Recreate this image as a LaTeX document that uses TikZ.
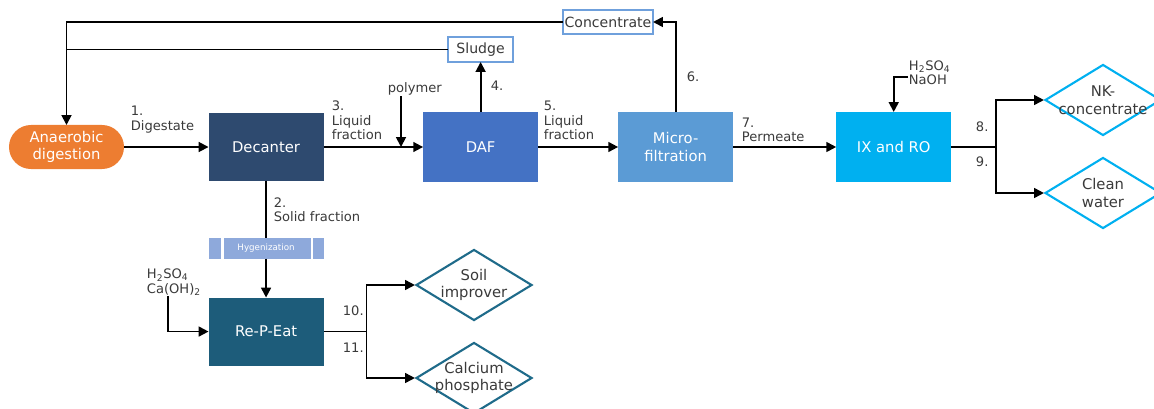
\documentclass[tikz,border=0pt]{standalone}
\usepackage{fontspec}
\setmainfont{DejaVu Sans}
\usetikzlibrary{arrows.meta,positioning,shapes.geometric}
\definecolor{adorange}{HTML}{ED7D31}
\definecolor{decnavy}{HTML}{2E4A6F}
\definecolor{dafblue}{HTML}{4472C4}
\definecolor{mfblue}{HTML}{5B9BD5}
\definecolor{ixcyan}{HTML}{00B0F0}
\definecolor{repteal}{HTML}{1D5C7A}
\definecolor{hygblue}{HTML}{8EA9DB}
\definecolor{outblue}{HTML}{6FA0DC}
\definecolor{prodteal}{HTML}{1F6B8A}
\definecolor{lblgrey}{HTML}{3A3A3A}

\begin{document}
\begin{tikzpicture}[x=0.025cm, y=-0.025cm, line width=1.3pt, unit/.style={fill=#1, text=white, minimum width=2.875cm, minimum height=1.75cm, align=center, inner sep=0pt, outer sep=0pt, font=\fontsize{10.5}{12.5}\selectfont}, outbox/.style={draw=outblue, fill=white, line width=1.3pt, minimum height=0.6cm, inner sep=0pt, outer sep=0pt, text=lblgrey, font=\fontsize{10}{12}\selectfont}, prod/.style={diamond, draw=#1, line width=1.5pt, fill=white, minimum width=2.9cm, minimum height=1.775cm, inner sep=0pt}, prodtext/.style={align=center, text=lblgrey, font=\fontsize{10.5}{12.5}\selectfont}, lbl/.style={inner sep=0pt, align=left, text=lblgrey, font=\fontsize{9.3}{10.3}\selectfont}, arr/.style={-{Triangle[length=7pt,width=7pt]}}]
\useasboundingbox (0,0) rectangle (1154,408);
\node[unit=adorange, rounded corners=0.55cm, minimum height=1.1cm] (ad) at (66.5,147) {Anaerobic\\digestion};
\node[unit=decnavy, minimum height=1.675cm, right=2.1125cm of ad] (dec) {Decanter};
\node[unit=dafblue, right=2.4875cm of dec] (daf) {DAF};
\node[unit=mfblue, right=2cm of daf] (mf) {Micro-\\filtration};
\node[unit=ixcyan, right=2.575cm of mf] (ix) {IX and RO};
\node[unit=hygblue, minimum height=0.525cm, font=\fontsize{6.2}{7}\selectfont, below=1.425cm of dec] (hyg) {Hygenization};
\node[unit=repteal, minimum height=1.7cm, below=0.975cm of hyg] (rep) {Re-P-Eat};
\node[outbox, minimum width=1.625cm, minimum height=0.625cm, above=1.25cm of daf] (sludge) {Sludge};
\node[outbox, minimum width=2.25cm] (conc) at (608,22) {Concentrate};
\node[prod=ixcyan, label={[prodtext]center:{NK-\\concentrate}}] (nk) at (1103,100) {};
\node[prod=ixcyan, label={[prodtext]center:{Clean\\water}}] (cw) at (1103,193) {};
\node[prod=prodteal, label={[prodtext]center:{Soil\\improver}}] (soil) at (474,285) {};
\node[prod=prodteal, label={[prodtext]center:{Calcium\\phosphate}}] (caph) at (474,378) {};
\coordinate[right=1.125cm of ix] (ixsplit);
\coordinate[right=1.075cm of rep] (repsplit);
\coordinate (polyin) at (401,147);
\node[lbl, anchor=south west] (polymer) at (387,96) {polymer};
\node[lbl, anchor=south west] (chemna) at (908,86) {H\textsubscript{2}SO\textsubscript{4}\\NaOH};
\node[lbl, anchor=north west] (chemca) at (146,268) {H\textsubscript{2}SO\textsubscript{4}\\Ca(OH)\textsubscript{2}};
\node[lbl, anchor=south west] (l1) at (130,134) {1.\\Digestate};
\node[lbl, anchor=south west] (l2) at (273,223) {2.\\Solid fraction};
\node[lbl, anchor=south west] (l3) at (331,141) {3.\\Liquid\\fraction};
\node[lbl, anchor=south west] (l4) at (490,91) {4.};
\node[lbl, anchor=south west] (l5) at (543,141) {5.\\Liquid\\fraction};
\node[lbl, anchor=south west] (l6) at (686,83) {6.};
\node[lbl, anchor=south west] (l7) at (741,143) {7.\\Permeate};
\node[lbl, anchor=south west] (l8) at (975,133) {8.};
\node[lbl, anchor=south west] (l9) at (975,168) {9.};
\node[lbl, anchor=south west] (l10) at (342,317) {10.};
\node[lbl, anchor=south west] (l11) at (342,353) {11.};
\foreach \sx in {0.35,2.575} \draw[white, line width=1.5pt] ([xshift=\sx cm]hyg.north west) -- ([xshift=\sx cm]hyg.south west);
\draw[arr] (ad) -- (dec); \draw[arr] (dec) -- (daf); \draw[arr] (daf) -- (mf); \draw[arr] (mf) -- (ix);
\draw[arr] (polymer.south -| polyin) -- (polyin);
\draw[arr] (daf) -- (sludge); \draw[arr] (mf) |- (conc); \draw[arr] (conc) -| (ad);
\draw (sludge.west) -- (sludge.west -| ad.north);
\draw (dec) -- (hyg); \draw[arr] (hyg) -- (rep);
\draw[arr] ([xshift=-0.15cm]chemca.south) |- (rep);
\draw[arr] ([yshift=-0.1cm]chemna.west) -| (ix);
\draw (ix) -- (ixsplit); \draw[arr] (ixsplit) |- (nk); \draw[arr] (ixsplit) |- (cw);
\draw (rep) -- (repsplit); \draw[arr] (repsplit) |- (soil); \draw[arr] (repsplit) |- (caph);
\end{tikzpicture}
\end{document}
